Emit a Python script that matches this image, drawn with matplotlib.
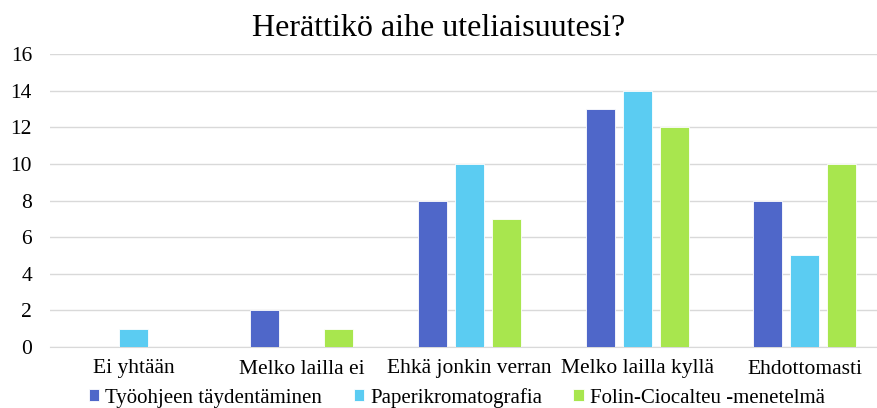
import matplotlib
matplotlib.use("Agg")
import matplotlib.pyplot as plt
import numpy as np

categories = ["Ei yhtään", "Melko lailla ei", "Ehkä jonkin verran", "Melko lailla kyllä", "Ehdottomasti"]
series_names = ["Työohjeen täydentäminen", "Paperikromatografia", "Folin-Ciocalteu -menetelmä"]
tyoohje = [0, 2, 8, 13, 8]
paperi = [1, 0, 10, 14, 5]
folin = [0, 1, 7, 12, 10]
colors = ["#4F67C9", "#5BCCF2", "#A8E64E"]
yticks = [0, 2, 4, 6, 8, 10, 12, 14, 16]

plt.rcParams['font.family'] = ['Liberation Serif', 'DejaVu Serif']

fig = plt.figure(figsize=(8.77, 4.08), dpi=100)
W, H = 877, 408
left_px, right_px = 50, 877
ax = fig.add_axes([left_px / W, (H - 347) / H, (right_px - left_px) / W, (347 - 54) / H])

step_px = 167.75
x = np.arange(len(categories))
bw = 29 / step_px
off = 37 / step_px
for i, (vals, name) in enumerate(zip([tyoohje, paperi, folin], series_names)):
    ax.bar(x + (i - 1) * off, vals, width=bw, color=colors[i], edgecolor="white",
           linewidth=0.6, label=name, zorder=3)

ax.set_xlim(-0.5, -0.5 + (right_px - left_px) / step_px)
ax.set_ylim(0, 16)
ax.set_yticks(yticks)
ax.set_xticks(x)
ax.set_xticklabels(categories, fontsize=15.5)
ax.tick_params(axis='y', labelsize=15.5, length=0, pad=13)
ax.tick_params(axis='x', length=0, pad=9)
ax.grid(axis='y', color="#D9D9D9", linewidth=1, zorder=0)
for s in ["top", "right", "left"]:
    ax.spines[s].set_visible(False)
ax.spines["bottom"].set_color("#D9D9D9")
ax.spines["bottom"].set_zorder(1)

fig.text(0.5, 0.93, "Herättikö aihe uteliaisuutesi?", ha="center", va="center", fontsize=23)

fig.legend(loc="center", bbox_to_anchor=(0.521, 0.025), ncol=3, frameon=False,
           fontsize=15, handlelength=0.5, handleheight=0.5, handletextpad=0.3,
           columnspacing=1.5, borderaxespad=0)

fig.savefig("out.png", dpi=100)
